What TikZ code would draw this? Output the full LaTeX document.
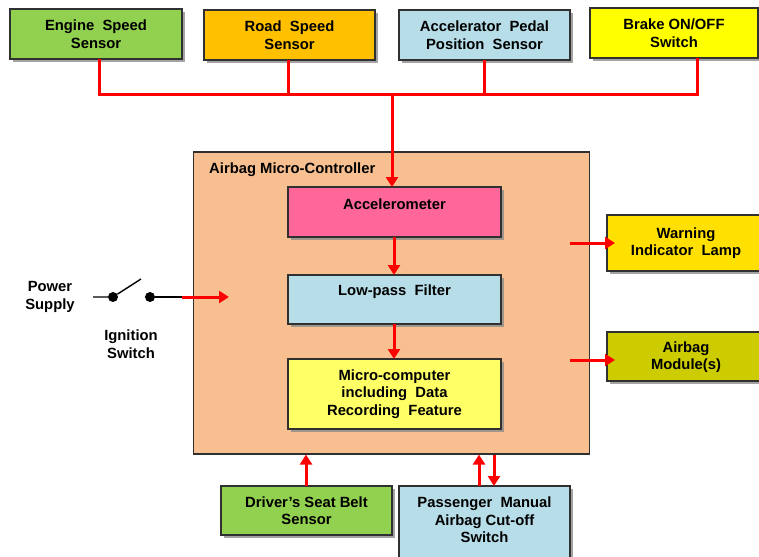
\documentclass[tikz,border=0pt]{standalone}
\usepackage{fontspec}
\setmainfont{Liberation Sans}
\usetikzlibrary{arrows.meta,shadows}

\definecolor{cgreen}{HTML}{92D050}
\definecolor{corange}{HTML}{FFC000}
\definecolor{cblue}{HTML}{B7DDE8}
\definecolor{cyellow}{HTML}{FFFF00}
\definecolor{cpink}{HTML}{FF6699}
\definecolor{cpeach}{HTML}{F8BF90}
\definecolor{cpale}{HTML}{FFFF66}
\definecolor{clamp}{HTML}{FFE000}
\definecolor{colive}{HTML}{CCCC00}
\definecolor{cred}{HTML}{FF0000}
\definecolor{cedge}{HTML}{303030}

\tikzset{
  blk/.style={draw=cedge, line width=1.2pt, inner sep=0pt, outer sep=0pt,
    drop shadow={shadow xshift=3pt, shadow yshift=-3pt, fill=black!45, opacity=0.8}},
  txt/.style={font=\bfseries\fontsize{14.8}{17.5}\selectfont, align=center, inner sep=0pt},
  bus/.style={draw=cred, line width=3pt},
  flow/.style={draw=cred, line width=3pt, -{Triangle[length=10pt,width=12pt]}},
  wire/.style={draw=black, line width=1.4pt},
}

\begin{document}
\begin{tikzpicture}[x=1pt,y=-1pt]
\useasboundingbox (0,0) rectangle (759,556);

% --- sensors along the top ---
\node[blk, fill=cgreen,  minimum width=172, minimum height=50] (eng)   at (96,34)  {};
\node[txt] (engT) at (eng) {Engine\ \ Speed\\Sensor};
\node[blk, fill=corange, minimum width=171, minimum height=50] (road)  at (289.5,35) {};
\node[txt] (roadT) at (road) {Road\ \ Speed\\Sensor};
\node[blk, fill=cblue,   minimum width=171, minimum height=50] (accp)  at (484.5,35) {};
\node[txt] (accpT) at (accp) {Accelerator\ \ Pedal\\Position\ \ Sensor};
\node[blk, fill=cyellow, minimum width=168, minimum height=50] (brake) at (674,33) {};
\node[txt] (brakeT) at (brake) {Brake ON/OFF\\Switch};

% --- controller housing ---
\node[draw=cedge, line width=1.2pt, fill=cpeach, minimum width=396, minimum height=302,
  inner sep=0pt] (mcu) at (391.5,303) {};
\node[txt, anchor=west] (mcuT) at (209,170) {Airbag Micro-Controller};

% --- signal chain inside ---
\node[blk, fill=cpink, minimum width=213, minimum height=50] (acc) at (394.5,212) {};
\node[txt] (accT) at (394.5,204) {Accelerometer};
\node[blk, fill=cblue, minimum width=213, minimum height=49] (lpf) at (394.5,299.5) {};
\node[txt] (lpfT) at (394.5,292) {Low-pass\ \ Filter};
\node[blk, fill=cpale, minimum width=213, minimum height=70] (uc) at (394.5,394) {};
\node[txt] (ucT) at (uc) {Micro-computer\\including\ \ Data\\Recording\ \ Feature};

% --- outputs on the right ---
\node[blk, fill=clamp,  minimum width=160, minimum height=56] (lamp) at (687,243) {};
\node[txt] (lampT) at (686,243) {Warning\\Indicator\ \ Lamp};
\node[blk, fill=colive, minimum width=160, minimum height=49] (bag)  at (687,356.5) {};
\node[txt] (bagT) at (686,357) {Airbag\\Module(s)};

% --- inputs at the bottom ---
\node[blk, fill=cgreen, minimum width=171, minimum height=49] (belt) at (306.5,510.5) {};
\node[txt] (beltT) at (belt) {Driver’s\ Seat\ Belt\\Sensor};
\node[blk, fill=cblue, minimum width=171, minimum height=80] (pass) at (484.5,526) {};
\node[txt] (passT) at (484.5,520) {Passenger\ \ Manual\\Airbag\ Cut-off\\Switch};

% --- sensor bus ---
\coordinate (b4) at (697,95);
\coordinate (bj) at (392,95);
\draw[bus, line join=miter] (eng.south -| 99,0) -- (99,95) -- (b4) -- (brake.south -| 697,0);
\draw[bus] (road.south -| 288,0) -- (288,95);
\draw[bus] (accp.south -| 484,0) -- (484,95);
\draw[flow] (bj) -- (acc.north -| 392,0);

% --- internal flow ---
\draw[flow] (acc.south -| 394,0) -- (lpf.north -| 394,0);
\draw[flow] (lpf.south -| 394,0) -- (uc.north -| 394,0);

% --- outputs ---
\coordinate (o1) at (570,243);
\coordinate (o2) at (570,360);
\draw[flow] (o1) -- ([xshift=8pt]lamp.west |- o1);
\draw[flow] (o2) -- ([xshift=8pt]bag.west |- o2);

% --- bottom inputs ---
\draw[flow] (belt.north -| 306,0) -- (mcu.south -| 306,0);
\draw[flow] (pass.north -| 479,0) -- (mcu.south -| 479,0);
\draw[flow] (mcu.south -| 494,0) -- (pass.north -| 494,0);

% --- power supply and ignition switch ---
\node[txt] (pwr) at (50,297) {Power\\Supply};
\node[txt] (ign) at (131,344) {Ignition\\Switch};
\node[circle, fill=black, minimum size=10pt, inner sep=0pt] (s1) at (113,297) {};
\node[circle, fill=black, minimum size=10pt, inner sep=0pt] (s2) at (150,297) {};
\coordinate (w0) at (93,297);
\coordinate (lever) at (141,279);
\coordinate (w1) at (182,297);
\coordinate (pin) at (229,297);
\draw[wire] (w0) -- (s1) -- (lever);
\draw[wire] (s2) -- (w1);
\draw[flow] (w1) -- (pin);
\end{tikzpicture}
\end{document}
